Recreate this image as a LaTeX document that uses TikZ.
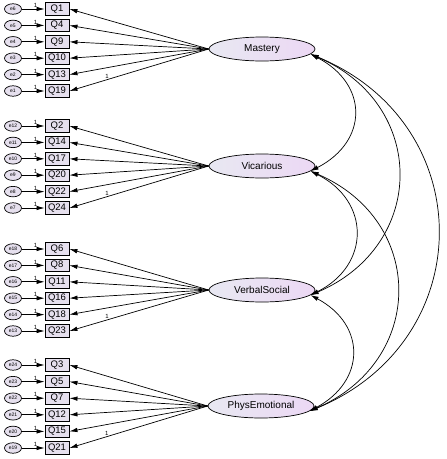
\documentclass[tikz,border=0pt]{standalone}
\usepackage{fontspec}
\setmainfont{Liberation Sans}
\usetikzlibrary{shapes.geometric,arrows.meta}
\definecolor{lavbox}{RGB}{230,224,238}
\definecolor{lavleft}{RGB}{232,232,242}
\definecolor{lavright}{RGB}{236,216,244}
\begin{document}
\begin{tikzpicture}[x=1pt, y=-1pt, line width=0.7pt,
  every node/.style={font=\fontsize{6}{7}\selectfont},
  errnode/.style={draw, ellipse, fill=lavbox, minimum width=17pt, minimum height=10.5pt, inner sep=0pt, font=\fontsize{5}{6}\selectfont},
  itembox/.style={draw, line width=0.9pt, fill=lavbox, minimum width=24pt, minimum height=12.5pt, inner sep=0pt, font=\fontsize{9.5}{10}\selectfont},
  factor/.style={draw, ellipse, left color=lavleft, right color=lavright, minimum width=106pt, minimum height=24pt, inner sep=0pt, font=\fontsize{10}{11}\selectfont},
  load/.style={-{Latex[length=8pt,width=4.5pt]}},
  covar/.style={{Latex[length=8pt,width=4.5pt]}-{Latex[length=8pt,width=4.5pt]}},
  onelab/.style={inner sep=1pt, font=\fontsize{6}{7}\selectfont}]
\useasboundingbox (0,0) rectangle (447,459);
% latent factors
\node[factor] (mastery) at (262,49) {Mastery};
\node[factor] (vicarious) at (262,166) {Vicarious};
\node[factor] (verbal) at (262,290) {VerbalSocial};
\node[factor] (phys) at (261,406) {PhysEmotional};
% indicators with their error terms
\foreach \q/\e [count=\i from 0] in {1/6,4/5,9/4,10/3,13/2,19/1} {
  \node[itembox] (q\q) at (57,9+16.4*\i) {Q\q};
  \node[errnode] (e\e) at (13,9+16.4*\i) {e\e};
  \draw[load] (e\e) -- node[above, pos=0.6, onelab] {1} (q\q);
  \draw[load] (mastery.west) -- (q\q.east);
}
\foreach \q/\e [count=\i from 0] in {2/12,14/11,17/10,20/9,22/8,24/7} {
  \node[itembox] (q\q) at (57,126+16.4*\i) {Q\q};
  \node[errnode] (e\e) at (13,126+16.4*\i) {e\e};
  \draw[load] (e\e) -- node[above, pos=0.6, onelab] {1} (q\q);
  \draw[load] (vicarious.west) -- (q\q.east);
}
\foreach \q/\e [count=\i from 0] in {6/18,8/17,11/16,16/15,18/14,23/13} {
  \node[itembox] (q\q) at (57,249+16.4*\i) {Q\q};
  \node[errnode] (e\e) at (13,249+16.4*\i) {e\e};
  \draw[load] (e\e) -- node[above, pos=0.6, onelab] {1} (q\q);
  \draw[load] (verbal.west) -- (q\q.east);
}
\foreach \q/\e [count=\i from 0] in {3/24,5/23,7/22,12/21,15/20,21/19} {
  \node[itembox] (q\q) at (57,365+16.6*\i) {Q\q};
  \node[errnode] (e\e) at (13,365+16.6*\i) {e\e};
  \draw[load] (e\e) -- node[above, pos=0.6, onelab] {1} (q\q);
  \draw[load] (phys.west) -- (q\q.east);
}
% fixed loadings
\path (q19.east) -- node[pos=0.27, above, onelab] (fix1) {1} (mastery.west);
\path (q24.east) -- node[pos=0.27, above, onelab] (fix2) {1} (vicarious.west);
\path (q23.east) -- node[pos=0.27, above, onelab] (fix3) {1} (verbal.west);
\path (q21.east) -- node[pos=0.27, above, onelab] (fix4) {1} (phys.west);
% covariances
\draw[covar] (mastery.-6) .. controls +(58,30) and +(58,-30) .. (vicarious.-6);
\draw[covar] (mastery.-6) .. controls +(117,50) and +(117,-50) .. (verbal.-6);
\draw[covar] (mastery.-6) .. controls +(170,70) and +(170,-70) .. (phys.-6);
\draw[covar] (vicarious.-6) .. controls +(60,30) and +(60,-30) .. (verbal.-6);
\draw[covar] (vicarious.-6) .. controls +(116,50) and +(116,-50) .. (phys.-6);
\draw[covar] (verbal.-6) .. controls +(56,30) and +(56,-30) .. (phys.-6);
\end{tikzpicture}
\end{document}
